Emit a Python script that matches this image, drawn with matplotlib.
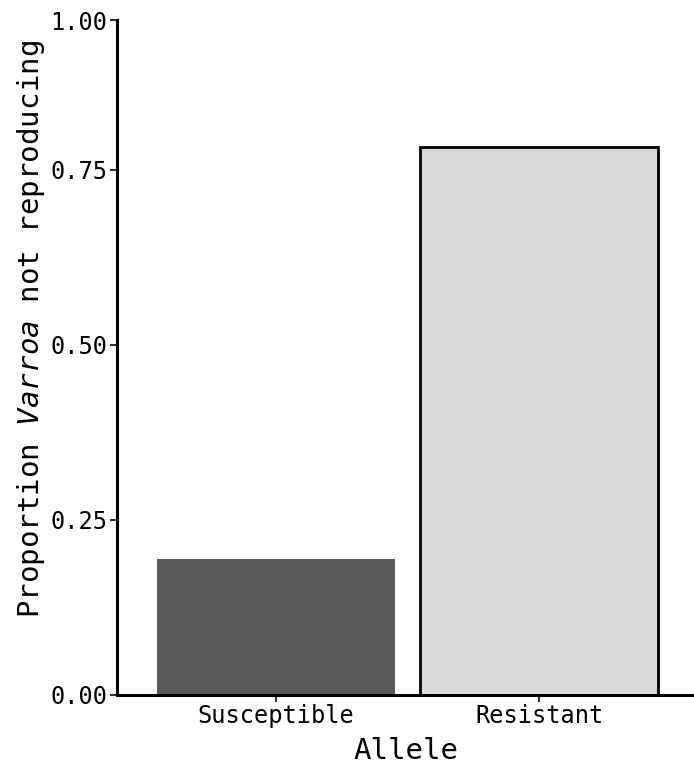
import matplotlib
matplotlib.use("Agg")
import matplotlib.pyplot as plt

categories = ["Susceptible", "Resistant"]
values = [0.194, 0.783]
fill_colors = ["#595959", "#d9d9d9"]
edge_colors = ["#595959", "#000000"]
ytick_values = [0.0, 0.25, 0.50, 0.75, 0.964]
ytick_labels = ["0.00", "0.25", "0.50", "0.75", "1.00"]

plt.rcParams["font.family"] = ["DejaVu Sans Mono"]
plt.rcParams["mathtext.fontset"] = "custom"
plt.rcParams["mathtext.it"] = "DejaVu Sans Mono:italic"
plt.rcParams["mathtext.rm"] = "DejaVu Sans Mono"

fig = plt.figure(figsize=(6.94, 7.74), dpi=100)
W, H = 694, 774
left, right, top, bottom = 117, 694, 20, 694.5
ax = fig.add_axes([left / W, 1 - bottom / H, (right - left) / W, (bottom - top) / H])

x = list(range(len(categories)))
for i in x:
    ax.bar(i, values[i], width=0.905, color=fill_colors[i],
           edgecolor=edge_colors[i], linewidth=2.0 if i == 1 else 0)

ax.set_xlim(-0.605, 1.589)
ax.set_ylim(0, 0.964)
ax.set_xticks(x)
ax.set_xticklabels(categories, fontsize=17)
ax.set_yticks(ytick_values)
ax.set_yticklabels(ytick_labels, fontsize=17)

for s in ["top", "right"]:
    ax.spines[s].set_visible(False)
for s in ["left", "bottom"]:
    ax.spines[s].set_linewidth(2.2)
    ax.spines[s].set_color("black")
ax.tick_params(axis="both", length=5, width=1.5, color="#333333", pad=2)

ax.set_xlabel("Allele", fontsize=21, labelpad=6)
ax.set_ylabel(r"Proportion $\mathit{Varroa}$ not reproducing", fontsize=21)
ax.yaxis.set_label_coords(-0.122, 0.542)

fig.savefig("out.png", dpi=100)
